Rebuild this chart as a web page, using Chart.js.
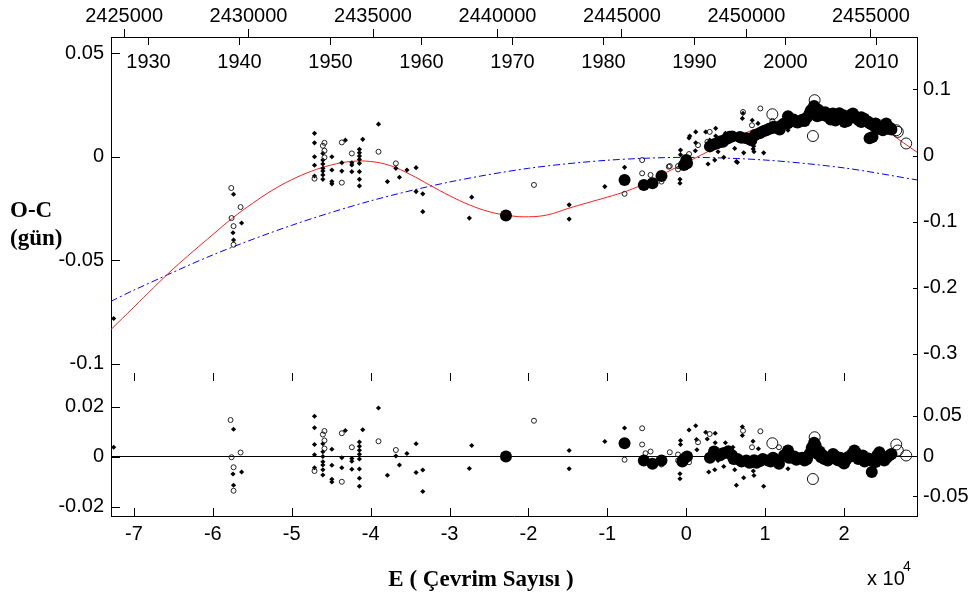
<!DOCTYPE html>
<html lang="tr">
<head>
<meta charset="utf-8">
<title>O-C</title>
<script src="https://cdn.jsdelivr.net/npm/chart.js@4.4.1/dist/chart.umd.min.js"></script>
<style>
  html, body { margin: 0; padding: 0; background: #fff; }
  canvas { display: block; }
</style>
</head>
<body>
<canvas id="ocChart" width="975" height="599"></canvas>
<script>
// ephemeris for the upper axes: JD = T0 + P * E
const T0 = 2447584;
const P = 0.317;
const eMin = -72900;
const eMax = 29240;

// tick labels
const cycleTicks = [-70000, -60000, -50000, -40000, -30000, -20000, -10000, 0, 10000, 20000];
const jdTicks = [2425000, 2430000, 2435000, 2440000, 2445000, 2450000, 2455000];
const yearTicks = [1930, 1940, 1950, 1960, 1970, 1980, 1990, 2000, 2010];
const ocTicks = [0.05, 0, -0.05, -0.1];
const ocRightTicks = [0.1, 0, -0.1, -0.2, -0.3];
const resTicks = [0.02, 0, -0.02];
const resRightTicks = [0.05, 0, -0.05];

// visual / photographic minima (small filled marks)
const plusE = [-72560, -57370, -56350, -57440, -57370,
  -47110, -47110, -47110, -47110, -47110,
  -46050, -46050, -46050, -46050, -46050, -46050, -46050,
  -44910, -44910, -44910, -44910, -43200, -43650, -43650,
  -42380, -42380, -42380,
  -41420, -41420, -41420, -41420, -41420, -41420, -41420, -41420,
  -41000, -39000, -37870, -36800, -36350, -35400, -34240, -34240, -33390, -33390,
  -27190, -27490, -14840, -14840, -10320, -7820,
  -730, -730, -800, -800, 440, 350, 1200, 1200, 1150, 2470, 2970, 3730, 3730, 4030, 3610, 2760,
  4960, 6050, 6140, 4750, 6350, 6480, 7190, 7110, 7280, 8540, 8580, 8480, 9810, 9090, 8360, 12890];
const plusOC = [-0.0781, -0.0181, -0.0320, -0.0367, -0.0402,
  0.0113, 0.0067, 0.0000, -0.0041, -0.0093,
  0.0016, -0.0016, -0.0035, -0.0056, -0.0069, -0.0088, -0.0109,
  0.0000, -0.0064, -0.0120, -0.0131, 0.0080, -0.0029, -0.0069,
  -0.0029, -0.0040, -0.0072,
  0.0036, 0.0019, 0.0003, -0.0013, -0.0032, -0.0072, -0.0109, -0.0141,
  0.0084, 0.0157, -0.0120, -0.0056, -0.0099, -0.0064, -0.0053, -0.0168, -0.0179, -0.0265,
  -0.0195, -0.0296, -0.0232, -0.0301, -0.0144, -0.0051,
  0.0032, 0.0010, -0.0109, -0.0128, 0.0100, 0.0091, 0.0120, 0.0067, 0.0029, 0.0120, 0.0080, 0.0137, 0.0100, 0.0024, -0.0016, -0.0035,
  0.0113, 0.0113, 0.0040, -0.0003, -0.0024, -0.0027, 0.0209, 0.0185, 0.0019, 0.0051, 0.0024, 0.0037, 0.0019, 0.0161, 0.0176, 0.0128];

// photoelectric minima (small open circles)
const openE = [-57660, -56480, -57620, -57370, -57370,
  -47110, -45850, -46050, -45850, -45850, -43650, -43650, -42380, -39000, -36800,
  -19300, -7820, -5590, -5590, -4530, -3140, -2220, -2090, -1040, -1040,
  350, 1490, 2970, 2680, 7190, 8330, 9390, 10910];
const openOC = [-0.0151, -0.0243, -0.0296, -0.0335, -0.0425,
  -0.0106, 0.0067, 0.0053, 0.0029, -0.0003, 0.0069, -0.0125, 0.0016, 0.0024, -0.0032,
  -0.0136, -0.0179, -0.0016, -0.0080, -0.0088, -0.0120, -0.0048, -0.0045, -0.0045, -0.0061,
  0.0013, 0.0056, 0.0120, 0.0072, 0.0216, 0.0152, 0.0233, 0.0173];

// CCD minima (large filled circles)
const ccdE = [-22850, -7820, -5380, -4280, -3140, 0, 100, -300,
  3000, 3520, 3900, 4200, 4400, 4660, 5000, 5290, 5500, 5800, 6800, 7000, 7620, 8000, 8250, 8700,
  9300, 9600, 9900, 10150, 10500, 10780, 11100, 11300, 11840, 12000, 12400,
  12890, 12890, 13300, 13600, 13950, 14100, 14400, 14700, 15000, 15300, 15630, 15800, 16000, 16200,
  16390, 16480, 16600, 16800, 17000, 17320, 17600, 17800, 18000, 18160, 18300, 18580, 18900, 19000,
  19200, 19400, 19650, 19900, 20060, 20300, 20400, 20600, 20800, 21110, 21400, 21600, 21900,
  22180, 22180, 22500, 22700, 23000, 23230, 23230, 23500, 23600, 23800, 24000, 24280, 24400,
  24600, 24910, 25000, 25340, 25500, 25800, 26000];
const ccdOC = [-0.0284, -0.0112, -0.0136, -0.0128, -0.0093, -0.0016, -0.0032, -0.0040,
  0.0050, 0.0060, 0.0065, 0.0070, 0.0075, 0.0072, 0.0085, 0.0089, 0.0096, 0.0098, 0.0095, 0.0092, 0.0089, 0.0085, 0.0080, 0.0105,
  0.0113, 0.0120, 0.0125, 0.0128, 0.0135, 0.0137, 0.0145, 0.0140, 0.0132, 0.0150, 0.0160,
  0.0196, 0.0161, 0.0175, 0.0180, 0.0168, 0.0165, 0.0170, 0.0178, 0.0173, 0.0190, 0.0209, 0.0225, 0.0215, 0.0245,
  0.0233, 0.0209, 0.0195, 0.0225, 0.0200, 0.0209, 0.0215, 0.0195, 0.0205, 0.0192, 0.0180, 0.0209, 0.0175, 0.0200,
  0.0195, 0.0210, 0.0185, 0.0200, 0.0168, 0.0180, 0.0172, 0.0190, 0.0200, 0.0209, 0.0195, 0.0185, 0.0175,
  0.0190, 0.0168, 0.0185, 0.0175, 0.0170, 0.0161, 0.0089, 0.0155, 0.0095, 0.0150, 0.0160, 0.0144, 0.0135,
  0.0140, 0.0128, 0.0150, 0.0161, 0.0135, 0.0140, 0.0132];

// minima with larger error (large open circles)
const bigOpenE = [16270, 16050, 10910, 27870, 26610, 26810];
const bigOpenOC = [0.0273, 0.0100, 0.0205, 0.0064, 0.0128, 0.0120];

// residuals after the full fit
const plusResE = [-72560, -57370, -56350, -57440, -57370,
  -47110, -47110, -47110, -47110, -47110,
  -46050, -46050, -46050, -46050, -46050, -46050, -46050,
  -44910, -44910, -44910, -44910, -43200, -43650, -43650,
  -42380, -42380, -42380,
  -41420, -41420, -41420, -41420, -41420, -41420, -41420, -41420,
  -41000, -39000, -37870, -36800, -36350, -35400, -34240, -34240, -33390, -33390,
  -27190, -27490, -14840, -14840, -10320, -7820,
  -730, -730, -800, -800, 350, 1200, 1300, 1350, 2470, 2660, 3670, 3670, 4030, 3610, 2850,
  4960, 5910, 6140, 4750, 6140, 7110, 7110, 7280, 8460, 8500, 8580, 9810, 6350, 9140, 12890];
const plusRes = [0.0037, 0.0109, -0.0062, -0.0070, -0.0115,
  0.0161, 0.0115, 0.0048, 0.0007, -0.0045,
  0.0051, 0.0019, 0.0000, -0.0021, -0.0034, -0.0053, -0.0074,
  0.0029, -0.0035, -0.0091, -0.0102, 0.0104, -0.0005, -0.0045,
  -0.0008, -0.0019, -0.0051,
  0.0058, 0.0041, 0.0025, 0.0009, -0.0010, -0.0050, -0.0087, -0.0119,
  0.0107, 0.0194, -0.0075, 0.0002, -0.0034, 0.0012, 0.0051, -0.0064, -0.0054, -0.0140,
  0.0044, -0.0048, 0.0024, -0.0049, 0.0060, 0.0114,
  0.0064, 0.0048, -0.0069, -0.0089, 0.0106, 0.0123, 0.0068, 0.0027, 0.0097, 0.0070, 0.0093, 0.0055, -0.0016, -0.0053, -0.0062,
  0.0055, 0.0037, -0.0023, -0.0040, -0.0053, 0.0119, 0.0084, -0.0085, 0.0061, -0.0058, -0.0076, -0.0119, -0.0115, 0.0031, -0.0049];

const openResE = [-57750, -56480, -57620, -57370, -57370,
  -47110, -45850, -46050, -45850, -45850, -43650, -43650, -42380, -39000, -36800,
  -19300, -7820, -5590, -5590, -4530, -5160, -3140, -2090, -1040, -1040,
  350, 1490, 2970, 7190, 8330, 9390, 11750];
const openRes = [0.0146, 0.0016, -0.0003, -0.0043, -0.0137,
  -0.0058, 0.0102, 0.0088, 0.0064, 0.0032, 0.0093, -0.0101, 0.0037, 0.0061, 0.0026,
  0.0143, -0.0013, 0.0113, 0.0048, 0.0020, 0.0013, -0.0032, 0.0017, 0.0008, -0.0016,
  -0.0023, 0.0057, 0.0090, 0.0103, 0.0037, 0.0101, 0.0037];

const ccdResE = [-22850, -7820, -5380, -4280, -3140, -500, -300, 100,
  3000, 3520, 3900, 4300, 4660, 5000, 5330, 5800, 6000, 6500, 7000, 7620, 8000, 8250, 8600, 8900,
  9300, 9700, 10350, 10700, 11000, 11300, 11750, 12400, 12890, 13000, 13400, 13700, 13950,
  14400, 14700, 15000, 15300, 15630, 15900, 16000, 16200, 16390, 16500, 16700, 16900, 17090, 17300,
  17500, 17930, 18100, 18400, 18600, 18770, 19200, 19500, 19830, 20000, 20200, 20460, 20800, 21000,
  21300, 21500, 21800, 22000, 22370, 22600, 22800, 23100, 23420, 23510, 23700, 24000, 24200, 24470,
  24800, 25100, 25400, 25730, 26000];
const ccdRes = [0.0000, 0.0053, -0.0016, -0.0029, -0.0016, -0.0020, -0.0010, 0.0000,
  -0.0005, 0.0020, 0.0010, 0.0005, 0.0013, 0.0015, 0.0021, 0.0005, -0.0010, -0.0010, -0.0020, -0.0016, -0.0025, -0.0023, -0.0015, -0.0025,
  -0.0019, -0.0010, -0.0016, -0.0020, -0.0005, -0.0012, -0.0029, 0.0005, 0.0024, -0.0005, -0.0005, 0.0000, -0.0013,
  -0.0008, -0.0005, -0.0016, -0.0010, 0.0011, 0.0035, 0.0020, 0.0055, 0.0044, 0.0030, 0.0010, 0.0020, -0.0003, 0.0005,
  -0.0010, -0.0016, -0.0008, -0.0005, 0.0010, 0.0004, -0.0015, -0.0005, -0.0023, -0.0028, -0.0015, -0.0003, 0.0000, 0.0010,
  0.0024, 0.0015, -0.0010, -0.0005, 0.0004, -0.0020, -0.0012, -0.0008, -0.0016, -0.0062, -0.0018, -0.0022, 0.0005, 0.0017,
  -0.0008, -0.0016, -0.0005, 0.0004, 0.0010];

const bigOpenResE = [16270, 16050, 10910, 27870, 26610, 26810];
const bigOpenRes = [0.0077, -0.0090, 0.0053, 0.0004, 0.0048, 0.0024];

// full fit (quadratic + light-time term)
const fitE = [-72900, -70000, -67500, -65000, -62500, -60000, -57500, -55000, -52500, -50000,
  -47500, -45000, -42500, -40000, -37500, -35000, -32500, -30000, -27500, -25000,
  -22500, -20000, -17500, -15000, -12500, -10000, -7500, -5000, -2500, 0,
  2500, 5000, 7500, 10000, 12500, 15000, 17500, 20000, 22500, 25000, 27500, 29240];
const fitOC = [-0.0834, -0.0726, -0.0632, -0.0541, -0.0457, -0.0376, -0.0296, -0.0226, -0.0163, -0.0111,
  -0.0070, -0.0040, -0.0023, -0.0023, -0.0043, -0.0085, -0.0137, -0.0188, -0.0232, -0.0265,
  -0.0284, -0.0290, -0.0280, -0.0250, -0.0222, -0.0195, -0.0165, -0.0125, -0.0075, -0.0028,
  0.0020, 0.0068, 0.0115, 0.0148, 0.0170, 0.0187, 0.0200, 0.0202, 0.0185, 0.0135, 0.0068, 0.0022];

// quadratic term only
const parabE = [-72900, -70000, -60000, -50000, -40000, -30000, -20000, -10000, 0, 10000, 20000, 29240];
const parabOC = [-0.0698, -0.0644, -0.0474, -0.0331, -0.0213, -0.0122, -0.0056, -0.0017, -0.0003, -0.0016, -0.0054, -0.0112];

const zeroE = [eMin, eMax];
const zeroRes = [0, 0];

const pts = (xs, ys) => xs.map((x, i) => ({ x: x, y: ys[i] }));
const yearToCycle = yr => (2451544.5 + (yr - 2000) * 365.25 - T0) / P;
const fixTicks = list => scale => { scale.ticks = list.map(v => ({ value: v })); };

const sansFont = "'Liberation Sans', Arial, sans-serif";
const serifFont = "'Liberation Serif', 'Times New Roman', serif";

Chart.defaults.font.family = sansFont;
Chart.defaults.font.size = 20;
Chart.defaults.color = '#000';

// inward tick marks, the year scale and the axis captions
const panelDecor = {
    id: 'panelDecor',
    afterDraw(chart) {
        const c = chart.ctx;
        const sx = chart.scales.x;
        const yTop = chart.scales.y, yBot = chart.scales.yRes;
        const rTop = chart.scales.y2, rBot = chart.scales.yRes2;
        const left = Math.round(sx.left), right = Math.round(sx.right);
        const line = (x1, y1, x2, y2) => {
            c.beginPath(); c.moveTo(x1, y1); c.lineTo(x2, y2); c.stroke();
        };
        c.save();
        c.strokeStyle = '#000';
        c.lineWidth = 1;

        ocTicks.forEach(v => { const y = Math.round(yTop.getPixelForValue(v)) + 0.5; line(left, y, left + 9, y); });
        resTicks.forEach(v => { const y = Math.round(yBot.getPixelForValue(v)) + 0.5; line(left, y, left + 9, y); });
        ocRightTicks.forEach(v => { const y = Math.round(rTop.getPixelForValue(v)) + 0.5; line(right - 4, y, right, y); });
        resRightTicks.forEach(v => { const y = Math.round(rBot.getPixelForValue(v)) + 0.5; line(right - 4, y, right, y); });

        const seam = Math.round(yBot.top);
        const bottom = Math.round(sx.top);
        cycleTicks.forEach(v => {
            const x = Math.round(sx.getPixelForValue(v)) + 0.5;
            line(x, bottom, x, bottom - 8);
            line(x, seam, x, seam + 8);
        });

        c.fillStyle = '#000';
        c.font = '20px ' + sansFont;
        c.textAlign = 'center';
        c.textBaseline = 'middle';
        const topEdge = Math.round(yTop.top);
        yearTicks.forEach(yr => {
            const x = Math.round(sx.getPixelForValue(yearToCycle(yr))) + 0.5;
            line(x, topEdge, x, topEdge + 8);
            c.fillText(String(yr), x, topEdge + 25);
        });

        c.font = 'bold 23px ' + serifFont;
        c.textAlign = 'left';
        c.fillText('O-C', 10, 211);
        c.fillText('(gün)', 10, 239);
        c.textAlign = 'center';
        c.fillText('E ( Çevrim Sayısı )', 481, 580);

        c.textAlign = 'left';
        c.textBaseline = 'alphabetic';
        c.font = '20px ' + sansFont;
        c.fillText('x 10', 867, 585);
        c.font = '14px ' + sansFont;
        c.fillText('4', 903, 571);
        c.restore();
    }
};

const markerSet = (data, axis, style) => Object.assign({
    data: data, yAxisID: axis, showLine: false, order: 1
}, style);
const plusStyle = { pointStyle: 'rectRot', pointRadius: 2.6, backgroundColor: '#000', borderWidth: 0 };
const openStyle = { pointStyle: 'circle', pointRadius: 2.5, backgroundColor: 'rgba(0,0,0,0)', borderColor: '#222', borderWidth: 1 };
const ccdStyle = { pointStyle: 'circle', pointRadius: 6, backgroundColor: '#000', borderWidth: 0 };
const bigOpenStyle = { pointStyle: 'circle', pointRadius: 5.5, backgroundColor: 'rgba(0,0,0,0)', borderColor: '#111', borderWidth: 1 };

// left stacked axes are laid out in reverse order, so the residual axis comes first
const ctx = document.getElementById('ocChart').getContext('2d');
const ocChart = new Chart(ctx, {
    type: 'scatter',
    data: {
        datasets: [
            markerSet(pts(ccdE, ccdOC), 'y', ccdStyle),
            markerSet(pts(bigOpenE, bigOpenOC), 'y', bigOpenStyle),
            markerSet(pts(openE, openOC), 'y', openStyle),
            markerSet(pts(plusE, plusOC), 'y', plusStyle),
            {
                data: pts(fitE, fitOC), yAxisID: 'y', showLine: true, pointRadius: 0,
                borderColor: 'rgb(255,30,30)', borderWidth: 1, tension: 0.4, order: 2
            },
            {
                data: pts(parabE, parabOC), yAxisID: 'y', showLine: true, pointRadius: 0,
                borderColor: '#0000ff', borderWidth: 1, borderDash: [7, 3, 2, 3],
                tension: 0.3, order: 3
            },
            markerSet(pts(ccdResE, ccdRes), 'yRes', ccdStyle),
            markerSet(pts(bigOpenResE, bigOpenRes), 'yRes', bigOpenStyle),
            markerSet(pts(openResE, openRes), 'yRes', openStyle),
            markerSet(pts(plusResE, plusRes), 'yRes', plusStyle),
            {
                data: pts(zeroE, zeroRes), yAxisID: 'yRes', showLine: true, pointRadius: 0,
                borderColor: '#000', borderWidth: 1, order: 4
            }
        ]
    },
    options: {
        responsive: false,
        animation: false,
        devicePixelRatio: 1,
        layout: { padding: 0 },
        plugins: {
            legend: { display: false },
            tooltip: { enabled: false }
        },
        scales: {
            x: {
                type: 'linear',
                position: 'bottom',
                min: eMin,
                max: eMax,
                afterBuildTicks: fixTicks(cycleTicks),
                afterFit: s => { s.height = 83; },
                ticks: { padding: 6, callback: v => String(v / 10000) },
                grid: { display: false, drawTicks: false },
                border: { display: true, color: '#000', width: 1 }
            },
            xJD: {
                type: 'linear',
                position: 'top',
                min: T0 + P * eMin,
                max: T0 + P * eMax,
                afterBuildTicks: fixTicks(jdTicks),
                afterFit: s => { s.height = 37; },
                ticks: { padding: 1, callback: v => String(v) },
                grid: { display: true, drawOnChartArea: false, drawTicks: true, tickLength: 8, color: '#000', tickColor: '#000' },
                border: { display: true, color: '#000', width: 1 }
            },
            yRes: {
                type: 'linear',
                position: 'left',
                stack: 'left',
                stackWeight: 143,
                min: -0.0238,
                max: 0.0334,
                afterBuildTicks: fixTicks(resTicks),
                afterFit: s => { s.width = 111; },
                ticks: { padding: 7, callback: v => String(v) },
                grid: { display: false, drawTicks: false },
                border: { display: true, color: '#000', width: 1 }
            },
            y: {
                type: 'linear',
                position: 'left',
                stack: 'left',
                stackWeight: 336,
                min: -0.1044,
                max: 0.0578,
                afterBuildTicks: fixTicks(ocTicks),
                afterFit: s => { s.width = 111; },
                ticks: { padding: 7, callback: v => String(v) },
                grid: { display: false, drawTicks: false },
                border: { display: true, color: '#000', width: 1 }
            },
            y2: {
                type: 'linear',
                position: 'right',
                stack: 'right',
                stackWeight: 336,
                min: -0.329,
                max: 0.1793,
                afterBuildTicks: fixTicks(ocRightTicks),
                afterFit: s => { s.width = 58; },
                ticks: { padding: 6, callback: v => String(v) },
                grid: { display: false, drawTicks: false },
                border: { display: true, color: '#000', width: 1 }
            },
            yRes2: {
                type: 'linear',
                position: 'right',
                stack: 'right',
                stackWeight: 143,
                min: -0.0747,
                max: 0.1034,
                afterBuildTicks: fixTicks(resRightTicks),
                afterFit: s => { s.width = 58; },
                ticks: { padding: 6, callback: v => String(v) },
                grid: { display: false, drawTicks: false },
                border: { display: true, color: '#000', width: 1 }
            }
        }
    },
    plugins: [panelDecor]
});
</script>
</body>
</html>
